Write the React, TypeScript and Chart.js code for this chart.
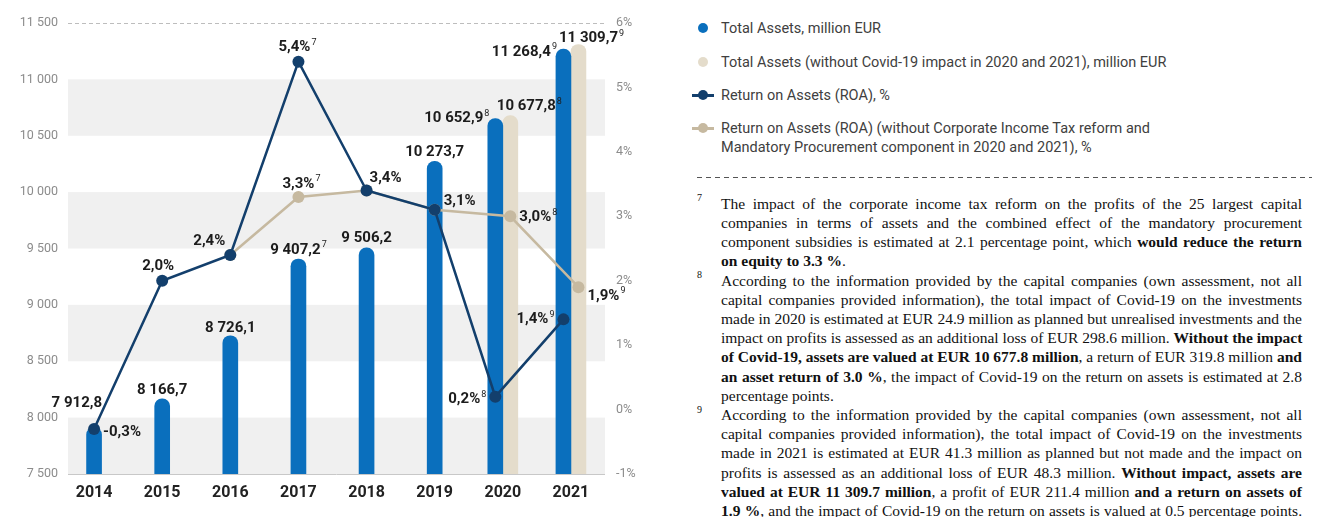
import React, { useEffect, useRef } from "react";
import { Chart, registerables } from "chart.js";

Chart.register(...registerables);

// ---------------- DATA ----------------
const years = ["2014", "2015", "2016", "2017", "2018", "2019", "2020", "2021"];
const totalAssets = [7912.8, 8166.7, 8726.1, 9407.2, 9506.2, 10273.7, 10652.9, 11268.4];
const totalAssetsNoCovid: (number | null)[] = [null, null, null, null, null, null, 10677.8, 11309.7];
const roa = [-0.3, 2.0, 2.4, 5.4, 3.4, 3.1, 0.2, 1.4];
const roaAdjusted: (number | null)[] = [null, null, 2.4, 3.3, 3.4, 3.1, 3.0, 1.9];

const assetNotes = ["", "", "", "7", "", "", "8", "9"];
const noCovidNotes = ["", "", "", "", "", "", "8", "9"];
const roaNotes = ["", "", "", "7", "", "", "8", "9"];
const roaAdjNotes = ["", "", "", "7", "", "", "8", "9"];
const roaAdjLabelShown = [false, false, false, true, false, false, true, true];

const leftAxis = { min: 7500, max: 11500, step: 500 };
const rightAxis = { min: -1, max: 6, step: 1 };

const legendLabels = [
  "Total Assets, million EUR",
  "Total Assets (without Covid-19 impact in 2020 and 2021), million EUR",
  "Return on Assets (ROA), %",
  "Return on Assets (ROA) (without Corporate Income Tax reform and\nMandatory Procurement component in 2020 and 2021), %",
];

type Seg = [string, boolean];
const footnotes: { mark: string; justifyLast: boolean; lines: Seg[][] }[] = [
  {
    mark: "7",
    justifyLast: false,
    lines: [
      [["The impact of the corporate income tax reform on the profits of the 25 largest capital", false]],
      [["companies in terms of assets and the combined effect of the mandatory procurement", false]],
      [["component subsidies is estimated at 2.1 percentage point, which ", false], ["would reduce the return", true]],
      [["on equity to 3.3 %", true], [".", false]],
    ],
  },
  {
    mark: "8",
    justifyLast: false,
    lines: [
      [["According to the information provided by the capital companies (own assessment, not all", false]],
      [["capital companies provided information), the total impact of Covid-19 on the investments", false]],
      [["made in 2020 is estimated at EUR 24.9 million as planned but unrealised investments and the", false]],
      [["impact on profits is assessed as an additional loss of EUR 298.6 million. ", false], ["Without the impact", true]],
      [["of Covid-19, assets are valued at EUR 10 677.8 million", true], [", a return of EUR 319.8 million ", false], ["and", true]],
      [["an asset return of 3.0 %", true], [", the impact of Covid-19 on the return on assets is estimated at 2.8", false]],
      [["percentage points.", false]],
    ],
  },
  {
    mark: "9",
    justifyLast: true,
    lines: [
      [["According to the information provided by the capital companies (own assessment, not all", false]],
      [["capital companies provided information), the total impact of Covid-19 on the investments", false]],
      [["made in 2021 is estimated at EUR 41.3 million as planned but not made and the impact on", false]],
      [["profits is assessed as an additional loss of EUR 48.3 million. ", false], ["Without impact, assets are", true]],
      [["valued at EUR 11 309.7 million", true], [", a profit of EUR 211.4 million ", false], ["and a return on assets of", true]],
      [["1.9 %", true], [", and the impact of Covid-19 on the return on assets is valued at 0.5 percentage points.", false]],
    ],
  },
];

// ---------------- STYLE ----------------
const BLUE = "#0a6fbd";
const BEIGE = "#e4dccb";
const NAVY = "#133f6c";
const TAN = "#c6b9a0";
const TICK_GRAY = "#8c8c8c";
const LABEL_FONT = "Roboto, 'Noto Sans', sans-serif";
const TICK_FONT = "'Liberation Sans Narrow', Roboto, sans-serif";

type Place = { align: "left" | "center" | "right"; dx: number; dy: number } | null;
const assetPlace: Place[] = [
  { align: "right", dx: 8, dy: -24 },
  { align: "center", dx: 0, dy: -9 },
  { align: "center", dx: 0, dy: -8 },
  { align: "center", dx: 0, dy: -9 },
  { align: "center", dx: 0, dy: -10 },
  { align: "center", dx: 0, dy: -9 },
  { align: "right", dx: -6, dy: 0 },
  { align: "right", dx: -6.5, dy: 3 },
];
const noCovidPlace: Place[] = [null, null, null, null, null, null,
  { align: "left", dx: -13.5, dy: -9 },
  { align: "left", dx: -19.5, dy: -6 },
];
const roaPlace: Place[] = [
  { align: "left", dx: 9, dy: 3 },
  { align: "center", dx: -4, dy: -14 },
  { align: "right", dx: -5, dy: -14 },
  { align: "center", dx: -1, dy: -14 },
  { align: "left", dx: 3, dy: -12 },
  { align: "left", dx: 9, dy: -9 },
  { align: "right", dx: -9, dy: 3 },
  { align: "right", dx: -9, dy: 0 },
];
const roaAdjPlace: Place[] = [null, null, null,
  { align: "center", dx: 3, dy: -13 },
  null, null,
  { align: "left", dx: 9, dy: 1 },
  { align: "left", dx: 9, dy: 9 },
];

function fmtNum(v: number): string {
  const [i, d] = v.toFixed(1).split(".");
  return i.replace(/\B(?=(\d{3})+(?!\d))/g, " ") + "," + d;
}
function fmtPct(v: number): string {
  return v.toFixed(1).replace(".", ",") + "%";
}

function drawLabel(ctx: CanvasRenderingContext2D, text: string, sup: string, x: number, y: number, align: string) {
  ctx.font = `bold 15px ${LABEL_FONT}`;
  const w = ctx.measureText(text).width;
  ctx.font = `9px ${LABEL_FONT}`;
  const sw = sup ? ctx.measureText(sup).width + 1 : 0;
  const total = w + sw;
  const left = align === "left" ? x : align === "right" ? x - total : x - total / 2;
  ctx.textBaseline = "middle";
  ctx.textAlign = "left";
  ctx.fillStyle = "#1c1c1c";
  ctx.font = `bold 15px ${LABEL_FONT}`;
  ctx.fillText(text, left, y);
  if (sup) {
    ctx.font = `9px ${LABEL_FONT}`;
    ctx.fillText(sup, left + w + 1, y - 5);
  }
}

const BAR_A = 0, BAR_B = 1, LINE_ROA = 2, LINE_ADJ = 3;

const bandsPlugin = {
  id: "bands",
  beforeDatasetsDraw(chart: any) {
    const { ctx, chartArea } = chart;
    const y = chart.scales.y;
    const left = chartArea.left + 8;
    const right = chartArea.right;
    ctx.save();
    ctx.fillStyle = "#f0f0f0";
    for (let v = leftAxis.min; v < leftAxis.max; v += leftAxis.step * 2) {
      const top = y.getPixelForValue(v + leftAxis.step);
      const bot = y.getPixelForValue(v);
      ctx.fillRect(left, top, right - left, bot - top);
    }
    ctx.strokeStyle = "#bdbdbd";
    ctx.lineWidth = 1;
    ctx.setLineDash([4, 3]);
    const yt = Math.round(y.getPixelForValue(leftAxis.max)) + 0.5;
    ctx.beginPath();
    ctx.moveTo(left, yt);
    ctx.lineTo(right, yt);
    ctx.stroke();
    ctx.setLineDash([]);
    ctx.strokeStyle = "#c8c8c8";
    const yb = Math.round(y.getPixelForValue(leftAxis.min)) + 0.5;
    ctx.beginPath();
    ctx.moveTo(left, yb);
    ctx.lineTo(right, yb);
    ctx.stroke();
    ctx.restore();
  },
};

const shiftPlugin = {
  id: "shiftPoints",
  afterDatasetsUpdate(chart: any) {
    const a = chart.getDatasetMeta(BAR_A).data;
    const b = chart.getDatasetMeta(BAR_B).data;
    const l1 = chart.getDatasetMeta(LINE_ROA).data;
    const l2 = chart.getDatasetMeta(LINE_ADJ).data;
    totalAssetsNoCovid.forEach((v, i) => {
      if (v == null) return;
      if (l1[i] && a[i]) l1[i].x = a[i].x;
      if (l2[i] && b[i]) l2[i].x = b[i].x;
    });
  },
};

const labelsPlugin = {
  id: "valueLabels",
  afterDatasetsDraw(chart: any) {
    const ctx = chart.ctx;
    ctx.save();
    const a = chart.getDatasetMeta(BAR_A).data;
    const b = chart.getDatasetMeta(BAR_B).data;
    const l1 = chart.getDatasetMeta(LINE_ROA).data;
    const l2 = chart.getDatasetMeta(LINE_ADJ).data;
    totalAssets.forEach((v, i) => {
      const p = assetPlace[i];
      if (!p) return;
      drawLabel(ctx, fmtNum(v), assetNotes[i], a[i].x + p.dx, a[i].y + p.dy, p.align);
    });
    totalAssetsNoCovid.forEach((v, i) => {
      const p = noCovidPlace[i];
      if (v == null || !p) return;
      drawLabel(ctx, fmtNum(v), noCovidNotes[i], b[i].x + p.dx, b[i].y + p.dy, p.align);
    });
    roa.forEach((v, i) => {
      const p = roaPlace[i];
      if (!p) return;
      drawLabel(ctx, fmtPct(v), roaNotes[i], l1[i].x + p.dx, l1[i].y + p.dy, p.align);
    });
    roaAdjusted.forEach((v, i) => {
      const p = roaAdjPlace[i];
      if (v == null || !p || !roaAdjLabelShown[i]) return;
      drawLabel(ctx, fmtPct(v), roaAdjNotes[i], l2[i].x + p.dx, l2[i].y + p.dy, p.align);
    });
    ctx.restore();
  },
};

function LegendIcon({ kind, color }: { kind: string; color: string }) {
  return (
    <div style={{ position: "relative", width: 24, height: 12 }}>
      {kind === "line" && (
        <div style={{ position: "absolute", left: 0, top: 5, width: 22, height: 3, background: color }} />
      )}
      <div
        style={{
          position: "absolute",
          left: 6,
          top: 1,
          width: 10,
          height: 10,
          borderRadius: 5,
          background: color,
        }}
      />
    </div>
  );
}

export default function App() {
  const canvasRef = useRef<HTMLCanvasElement | null>(null);

  useEffect(() => {
    if (!canvasRef.current) return;
    const chart = new Chart(canvasRef.current, {
      type: "bar",
      data: {
        labels: years,
        datasets: [
          {
            type: "bar",
            label: legendLabels[0],
            data: totalAssets,
            backgroundColor: BLUE,
            barThickness: 15,
            borderRadius: 8,
            borderSkipped: "start",
            yAxisID: "y",
            order: 2,
          } as any,
          {
            type: "bar",
            label: legendLabels[1],
            data: totalAssetsNoCovid,
            backgroundColor: BEIGE,
            barThickness: 15,
            borderRadius: 8,
            borderSkipped: "start",
            yAxisID: "y",
            order: 3,
          } as any,
          {
            type: "line",
            label: legendLabels[2],
            data: roa,
            borderColor: NAVY,
            backgroundColor: NAVY,
            borderWidth: 2.5,
            pointRadius: 6,
            pointBorderWidth: 0,
            pointBackgroundColor: NAVY,
            tension: 0,
            yAxisID: "y1",
            order: 0,
          } as any,
          {
            type: "line",
            label: legendLabels[3],
            data: roaAdjusted,
            borderColor: TAN,
            backgroundColor: TAN,
            borderWidth: 2.5,
            pointRadius: 6,
            pointBorderWidth: 0,
            pointBackgroundColor: TAN,
            tension: 0,
            yAxisID: "y1",
            order: 1,
          } as any,
        ],
      },
      options: {
        responsive: false,
        animation: false,
        devicePixelRatio: 1,
        layout: { padding: { top: 23, left: 0, right: 0, bottom: 0 } },
        datasets: { bar: { skipNull: true } } as any,
        plugins: { legend: { display: false }, tooltip: { enabled: false } },
        scales: {
          x: {
            grid: { display: false, drawTicks: false },
            border: { display: false },
            ticks: {
              color: "#222",
              font: { family: LABEL_FONT, size: 16, weight: "bold" },
              padding: 9,
            },
            afterFit: (s: any) => {
              s.height = 43;
            },
          },
          y: {
            position: "left",
            min: leftAxis.min,
            max: leftAxis.max,
            grid: { display: false, drawTicks: false },
            border: { display: false },
            ticks: {
              stepSize: leftAxis.step,
              color: TICK_GRAY,
              font: { family: TICK_FONT, size: 12.5 },
              padding: 2,
              callback: (v: any) => String(v).replace(/\B(?=(\d{3})+(?!\d))/g, " "),
            },
            afterFit: (s: any) => {
              s.width = 60;
            },
          },
          y1: {
            position: "right",
            min: rightAxis.min,
            max: rightAxis.max,
            grid: { display: false, drawTicks: false },
            border: { display: false },
            ticks: {
              stepSize: rightAxis.step,
              color: TICK_GRAY,
              font: { family: TICK_FONT, size: 12.5 },
              padding: 11,
              callback: (v: any) => `${v}%`,
            },
            afterFit: (s: any) => {
              s.width = 40;
            },
          },
        },
      } as any,
      plugins: [bandsPlugin, shiftPlugin, labelsPlugin],
    });
    return () => chart.destroy();
  }, []);

  const legendTops = [28, 62, 95, 128];
  const legendKinds = ["dot", "dot", "line", "line"];
  const legendColors = [BLUE, BEIGE, NAVY, TAN];
  const LINE_H = 19.2;
  let lineIndex = 0;

  return (
    <div
      style={{
        position: "absolute",
        left: 0,
        top: 0,
        width: 1326,
        height: 517,
        background: "#fff",
        overflow: "hidden",
      }}
    >
      <canvas ref={canvasRef} width={645} height={517} style={{ position: "absolute", left: 0, top: 0, width: 645, height: 517 }} />

      {legendLabels.map((txt, i) => (
        <div key={i}>
          <div style={{ position: "absolute", left: 692, top: legendTops[i] - 6 }}>
            <LegendIcon kind={legendKinds[i]} color={legendColors[i]} />
          </div>
          <div
            style={{
              position: "absolute",
              left: 721,
              top: legendTops[i] - 9.5,
              fontFamily: TICK_FONT,
              fontSize: 14.5,
              lineHeight: "19px",
              color: "#404040",
              whiteSpace: "pre",
            }}
          >
            {txt}
          </div>
        </div>
      ))}

      <div
        style={{
          position: "absolute",
          left: 697,
          top: 177,
          width: 615,
          height: 1,
          background: "repeating-linear-gradient(to right, #555 0 5px, transparent 5px 9px)",
        }}
      />

      {footnotes.map((fn, fi) => {
        const startLine = lineIndex;
        lineIndex += fn.lines.length;
        return (
          <div key={fi}>
            <div
              style={{
                position: "absolute",
                left: 697,
                top: 203.3 + startLine * LINE_H - 11,
                fontFamily: "'Liberation Serif', serif",
                fontSize: 10,
                color: "#111",
              }}
            >
              {fn.mark}
            </div>
            {fn.lines.map((segs, li) => {
              const last = li === fn.lines.length - 1 && !fn.justifyLast;
              return (
                <div
                  key={li}
                  style={{
                    position: "absolute",
                    left: 721,
                    width: 581,
                    top: 203.3 + (startLine + li) * LINE_H - LINE_H / 2,
                    height: LINE_H,
                    lineHeight: `${LINE_H}px`,
                    fontFamily: "'Liberation Serif', serif",
                    fontSize: 15.5,
                    color: "#111",
                    textAlign: last ? "left" : "justify",
                    textAlignLast: last ? "left" : "justify",
                    whiteSpace: "nowrap",
                  } as any}
                >
                  {segs.map((s, si) => (
                    <span key={si} style={{ fontWeight: s[1] ? "bold" : "normal" }}>
                      {s[0]}
                    </span>
                  ))}
                </div>
              );
            })}
          </div>
        );
      })}
    </div>
  );
}
